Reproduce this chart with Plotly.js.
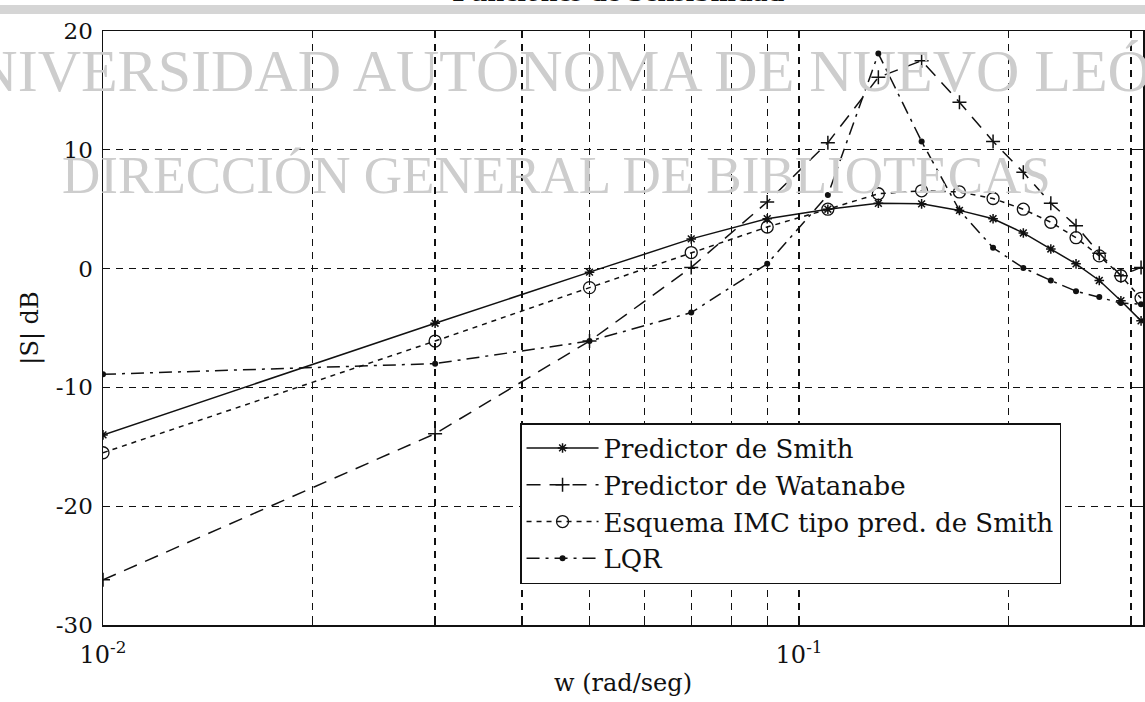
<!DOCTYPE html>
<html>
<head>
<meta charset="utf-8">
<script src="https://cdn.plot.ly/plotly-3.0.1.min.js"></script>
<style>
  html, body { margin: 0; padding: 0; background: #ffffff; }
  #chart { width: 1145px; height: 702px; }
</style>
</head>
<body>
<div id="chart"></div>
<script>
// Frequencies (rad/seg)
const w = [0.01, 0.03, 0.05, 0.07, 0.09, 0.11, 0.13, 0.15, 0.17, 0.19, 0.21, 0.23, 0.25, 0.27, 0.29, 0.31];

// |S| in dB for each scheme
const smith    = [-14.0, -4.6, -0.3, 2.5, 4.2, 5.0, 5.5, 5.45, 4.9, 4.2, 3.0, 1.65, 0.4, -1.0, -2.7, -4.4];
const watanabe = [-26.2, -13.9, -6.1, 0.1, 5.6, 10.6, 16.1, 17.5, 14.0, 10.7, 8.1, 5.5, 3.6, 1.3, -0.6, 0.1];
const imc      = [-15.5, -6.1, -1.6, 1.35, 3.5, 5.0, 6.3, 6.55, 6.45, 5.9, 5.0, 3.9, 2.6, 1.07, -0.6, -2.5];
const lqr      = [-8.9, -8.0, -6.1, -3.7, 0.4, 6.2, 18.1, 10.7, 4.9, 1.75, 0.06, -1.0, -1.9, -2.4, -2.9, -3.0];

const seriesNames = ['Predictor de Smith', 'Predictor de Watanabe', 'Esquema IMC tipo pred. de Smith', 'LQR'];

// Axis ticks
const xTickVals = [0.01, 0.1];
const xTickText = ['10<sup>-2</sup>', '10<sup>-1</sup>'];
const xMinorVals = [0.02, 0.03, 0.04, 0.05, 0.06, 0.07, 0.08, 0.09, 0.2, 0.3];
const yTickVals = [-30, -20, -10, 0, 10, 20];
const yTickText = ['-30', '-20', '-10', '0', '10', '20'];

const titleText = 'Funciones de Sensibilidad';
const xTitle = 'w (rad/seg)';
const yTitle = '|S| dB';
const watermark1 = 'UNIVERSIDAD AUTÓNOMA DE NUEVO LEÓN';
const watermark2 = 'DIRECCIÓN GENERAL DE BIBLIOTECAS';

const serif = '"DejaVu Serif", "Liberation Serif", serif';
const times = '"Liberation Serif", "Times New Roman", serif';
const ink = '#111111';

const traces = [
  { x: w, y: smith, name: seriesNames[0], type: 'scatter', mode: 'lines+markers',
    line: { color: ink, width: 1.5 },
    marker: { symbol: 'asterisk-open', size: 8, color: ink, line: { color: ink, width: 1.5 } } },
  { x: w, y: watanabe, name: seriesNames[1], type: 'scatter', mode: 'lines+markers',
    line: { color: ink, width: 1.5, dash: '14px,9px' },
    marker: { symbol: 'cross-thin-open', size: 10, color: ink, line: { color: ink, width: 1.5 } } },
  { x: w, y: imc, name: seriesNames[2], type: 'scatter', mode: 'lines+markers',
    line: { color: ink, width: 1.5, dash: '5px,5px' },
    marker: { symbol: 'circle-open', size: 12, color: ink, line: { color: ink, width: 1.3 } } },
  { x: w, y: lqr, name: seriesNames[3], type: 'scatter', mode: 'lines+markers',
    line: { color: ink, width: 1.5, dash: '13px,6px,3px,6px' },
    marker: { symbol: 'circle', size: 6, color: ink } }
];

const gridDash = '7px,6px';

const layout = {
  width: 1145, height: 702,
  paper_bgcolor: '#ffffff', plot_bgcolor: '#ffffff',
  margin: { l: 103, r: 2, t: 31, b: 77, pad: 0 },
  showlegend: true,
  font: { family: serif, color: ink, size: 24 },
  title: { text: titleText, font: { family: times, size: 30, color: ink, weight: 'bold' },
           x: 0.54, xanchor: 'center', y: 0.9985, yref: 'container', yanchor: 'bottom' },
  xaxis: {
    type: 'log', range: [-2, Math.log10(0.312)],
    tickmode: 'array', tickvals: xTickVals, ticktext: xTickText,
    showgrid: true, gridcolor: ink, gridwidth: 1.3, griddash: gridDash,
    minor: { tickmode: 'array', tickvals: xMinorVals, showgrid: true, gridcolor: ink,
             gridwidth: 1.3, griddash: gridDash, ticks: 'inside', ticklen: 6, tickcolor: ink, tickwidth: 1.3 },
    showline: true, linecolor: ink, linewidth: 1.5, mirror: 'ticks',
    ticks: 'inside', ticklen: 6, tickcolor: ink, tickwidth: 1.3,
    tickfont: { family: serif, size: 24, color: ink },
    ticklabelstandoff: 8,
    zeroline: false,
    title: { text: xTitle, font: { family: serif, size: 24, color: ink }, standoff: 6 }
  },
  yaxis: {
    range: [-30, 20],
    tickmode: 'array', tickvals: yTickVals, ticktext: yTickText,
    showgrid: true, gridcolor: ink, gridwidth: 1.3, griddash: gridDash,
    showline: true, linecolor: ink, linewidth: 1.5, mirror: 'ticks',
    ticks: 'inside', ticklen: 6, tickcolor: ink, tickwidth: 1.3,
    tickfont: { family: serif, size: 23, color: ink },
    ticklabelstandoff: 4,
    zeroline: false,
    title: { text: yTitle, font: { family: serif, size: 24, color: ink }, standoff: 10 }
  },
  legend: {
    x: 0.401, y: 0.340, xanchor: 'left', yanchor: 'top',
    bgcolor: '#ffffff', bordercolor: ink, borderwidth: 1.5,
    font: { family: serif, size: 26, color: ink },
    itemwidth: 72, tracegroupgap: 0
  },
  shapes: [
    { type: 'rect', xref: 'paper', yref: 'paper', layer: 'above',
      x0: -0.2, x1: 1.2, y0: 1 + (31 - 14) / 594, y1: 1 + (31 - 5) / 594,
      fillcolor: '#d5d5d5', line: { width: 0 } }
  ],
  annotations: [
    { text: watermark1, xref: 'paper', yref: 'paper', x: 0.442, y: 0.991,
      xanchor: 'center', yanchor: 'top', showarrow: false,
      font: { family: times, size: 60, color: '#cdcdcd' } },
    { text: watermark2, xref: 'paper', yref: 'paper', x: 0.4365, y: 0.8106,
      xanchor: 'center', yanchor: 'top', showarrow: false,
      font: { family: times, size: 53, color: '#cdcdcd' } }
  ]
};

Plotly.newPlot('chart', traces, layout, { displayModeBar: false, staticPlot: true });
</script>
</body>
</html>
